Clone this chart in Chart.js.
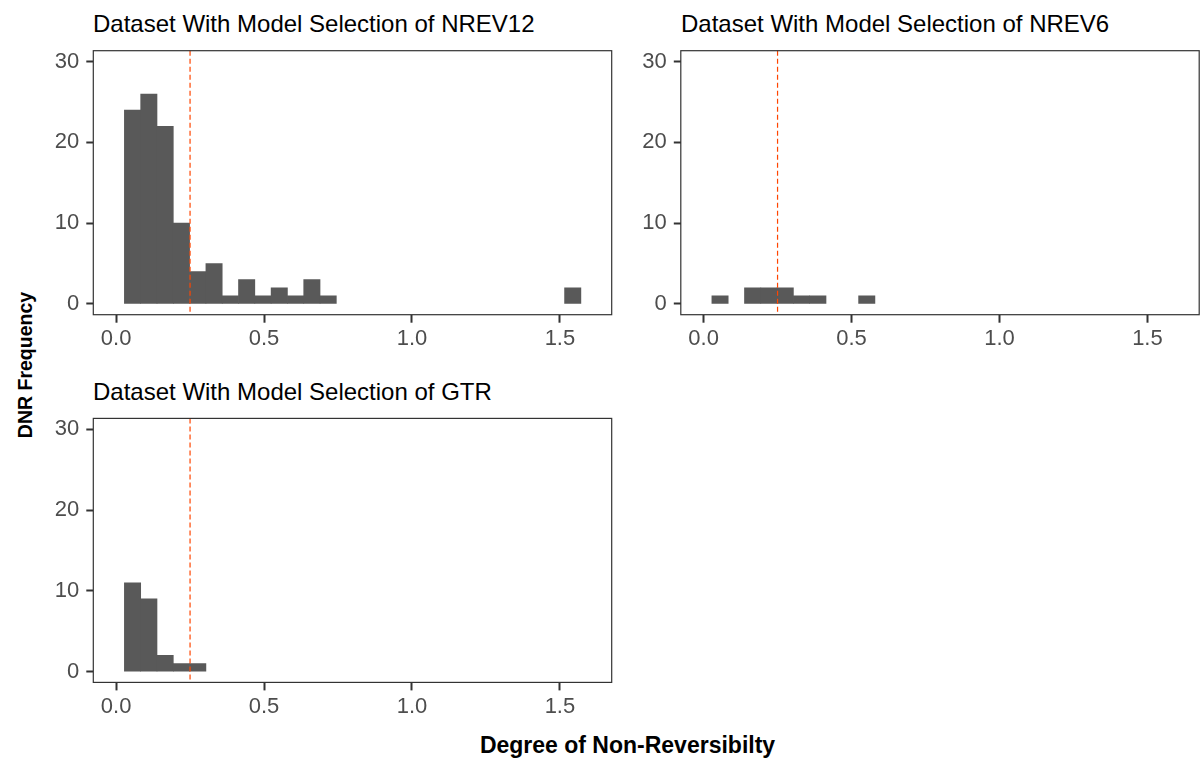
<!DOCTYPE html>
<html>
<head>
<meta charset="utf-8">
<script src="https://cdn.jsdelivr.net/npm/chart.js@4"></script>
<style>
  body { margin: 0; background: #fff; width: 1200px; height: 763px; overflow: hidden; position: relative;
         font-family: "Liberation Sans", Arial, sans-serif; }
  canvas { position: absolute; }
  .title { position: absolute; font-size: 24px; line-height: 24px; color: #000; white-space: nowrap; }
  .axis-title { position: absolute; font-weight: bold; color: #000; white-space: nowrap; }
</style>
</head>
<body>
<div class="title" style="left:93px;top:12px">Dataset With Model Selection of NREV12</div>
<div class="title" style="left:681px;top:12px">Dataset With Model Selection of NREV6</div>
<div class="title" style="left:93px;top:380px">Dataset With Model Selection of GTR</div>
<div class="axis-title" style="left:25px;top:364.5px;font-size:19.5px;transform:translate(-50%,-50%) rotate(-90deg)">DNR Frequency</div>
<div class="axis-title" style="left:627.5px;top:734px;font-size:23px;line-height:23px;transform:translateX(-50%)">Degree of Non-Reversibilty</div>

<canvas id="nrev12" width="594" height="320" style="left:20px;top:40px"></canvas>
<canvas id="nrev6" width="592" height="320" style="left:608px;top:40px"></canvas>
<canvas id="gtr" width="594" height="320" style="left:20px;top:408px"></canvas>

<script>
// histogram bin centres (shared across the three panels)
const BIN_CENTERS = [0.0556, 0.1107, 0.1658, 0.2209, 0.2760, 0.3311, 0.3862, 0.4413, 0.4964, 0.5515,
  0.6066, 0.6617, 0.7168, 0.7719, 0.8270, 0.8821, 0.9372, 0.9923, 1.0474, 1.1025,
  1.1576, 1.2127, 1.2678, 1.3229, 1.3780, 1.4331, 1.4882, 1.5433];

const NREV12_COUNTS = [24, 26, 22, 10, 4, 5, 1, 3, 1, 2, 1, 3, 1, 0, 0, 0, 0, 0, 0, 0, 0, 0, 0, 0, 0, 0, 0, 2];
const NREV6_COUNTS = [1, 0, 2, 2, 2, 1, 1, 0, 0, 1];
const GTR_COUNTS = [11, 9, 2, 1, 1];

const CUTOFF = 0.25;
const X_TICKS = [0, 0.5, 1.0, 1.5];
const Y_TICKS = [0, 10, 20, 30];
const X_RANGE = [-0.077, 1.675];
const Y_RANGE = [-1.34, 31.36];

const FONT = "'Liberation Sans', Arial, sans-serif";
const BAR = "#595959";
const INK = "#333333";
const TICK_TEXT = "#4D4D4D";

const panelFrame = {
  id: "panelFrame",
  afterDatasetsDraw(chart) {
    const { ctx, chartArea: a, scales: { x } } = chart;
    const px = x.getPixelForValue(CUTOFF);
    ctx.save();
    ctx.strokeStyle = "#FF4500";
    ctx.lineWidth = 1.2;
    ctx.setLineDash([5, 3]);
    ctx.beginPath();
    ctx.moveTo(px, a.top);
    ctx.lineTo(px, a.bottom);
    ctx.stroke();
    ctx.setLineDash([]);
    ctx.strokeStyle = INK;
    ctx.lineWidth = 1.2;
    ctx.strokeRect(a.left, a.top, a.right - a.left, a.bottom - a.top);
    ctx.restore();
  },
};

function histogram(id, counts, box) {
  const points = counts.map((c, i) => ({ x: BIN_CENTERS[i], y: c }));
  return new Chart(document.getElementById(id), {
    type: "bar",
    data: {
      datasets: [{
        data: points,
        // empty bins: keep them for spacing but paint nothing
        backgroundColor: (c) => (c.raw && c.raw.y > 0 ? BAR : "rgba(0,0,0,0)"),
        borderWidth: 0,
        barPercentage: 1,
        categoryPercentage: 1,
      }],
    },
    options: {
      responsive: false,
      animation: false,
      layout: { padding: { left: 0, right: box.right, top: box.top, bottom: 0 } },
      plugins: { legend: { display: false }, tooltip: { enabled: false } },
      scales: {
        x: {
          type: "linear",
          min: X_RANGE[0],
          max: X_RANGE[1],
          offset: false,
          afterBuildTicks: (s) => { s.ticks = X_TICKS.map((v) => ({ value: v })); },
          afterFit: (s) => { s.height = box.xh; s.paddingLeft = 0; s.paddingRight = 0; },
          grid: { display: true, drawOnChartArea: false, offset: false, tickLength: 8, tickColor: INK, tickWidth: 2 },
          border: { display: false },
          ticks: {
            autoSkip: false, maxRotation: 0, padding: 3, color: TICK_TEXT,
            font: { family: FONT, size: 22 },
            callback: (v) => Number(v).toFixed(1),
          },
        },
        y: {
          min: Y_RANGE[0],
          max: Y_RANGE[1],
          afterBuildTicks: (s) => { s.ticks = Y_TICKS.map((v) => ({ value: v })); },
          afterFit: (s) => { s.width = box.yw; s.paddingTop = 0; s.paddingBottom = 0; },
          grid: { display: true, drawOnChartArea: false, tickLength: 7, tickColor: INK, tickWidth: 2 },
          border: { display: false },
          ticks: { padding: 7, color: TICK_TEXT, font: { family: FONT, size: 22 } },
        },
      },
    },
    plugins: [panelFrame],
  });
}

histogram("nrev12", NREV12_COUNTS, { yw: 73.3, xh: 45.3, top: 10.7, right: 2.3 });
histogram("nrev6", NREV6_COUNTS, { yw: 72.8, xh: 45.3, top: 10.7, right: 0.8 });
histogram("gtr", GTR_COUNTS, { yw: 73.3, xh: 45.6, top: 10.4, right: 2.3 });
</script>
</body>
</html>
